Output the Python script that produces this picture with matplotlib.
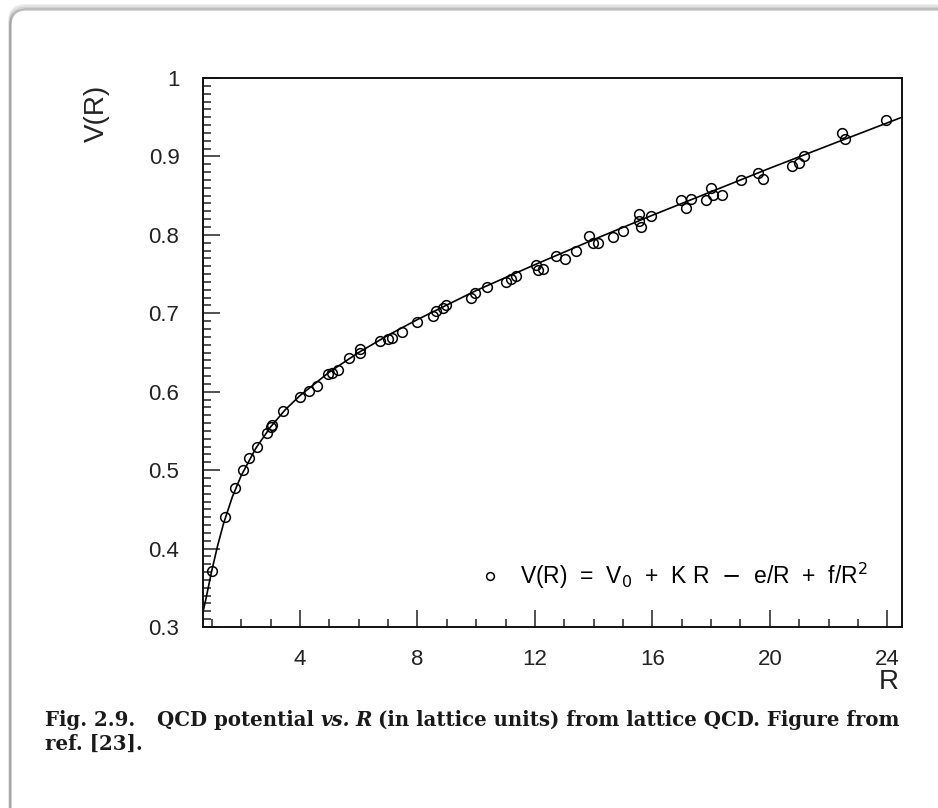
import numpy as np
import matplotlib
matplotlib.use("Agg")
import matplotlib.pyplot as plt
from matplotlib.patches import FancyBboxPatch
from matplotlib.ticker import MultipleLocator

# Точки решітчастого потенціалу
r_points = [1.00, 1.45, 1.79, 2.05, 2.28, 2.53, 2.87, 3.03, 3.06, 3.42,
            4.00, 4.32, 4.57, 4.96, 5.08, 5.30, 5.68, 6.04, 6.06, 6.74,
            7.00, 7.12, 7.46, 7.97, 8.53, 8.65, 8.87, 8.99, 9.84, 9.95,
            10.37, 11.03, 11.20, 11.37, 12.05, 12.10, 12.28, 12.73, 13.01, 13.41,
            13.84, 13.98, 14.15, 14.66, 15.00, 15.56, 15.56, 15.62, 15.96, 16.98,
            17.13, 17.32, 17.83, 18.00, 18.06, 18.38, 19.02, 19.59, 19.78, 20.76,
            20.98, 21.18, 22.46, 22.57, 23.96]
v_points = [0.371, 0.440, 0.477, 0.500, 0.515, 0.530, 0.547, 0.555, 0.557, 0.575,
            0.593, 0.601, 0.607, 0.622, 0.624, 0.628, 0.643, 0.650, 0.654, 0.665,
            0.667, 0.669, 0.676, 0.689, 0.696, 0.703, 0.707, 0.710, 0.720, 0.726,
            0.734, 0.740, 0.744, 0.748, 0.762, 0.755, 0.756, 0.773, 0.769, 0.780,
            0.798, 0.790, 0.790, 0.797, 0.805, 0.827, 0.818, 0.810, 0.824, 0.844,
            0.834, 0.846, 0.845, 0.860, 0.851, 0.851, 0.870, 0.879, 0.871, 0.888,
            0.892, 0.900, 0.930, 0.922, 0.946]

# Апроксимаційна крива
r_curve = [0.7, 0.8, 0.9, 1.0, 1.2, 1.4, 1.7, 2.0, 2.5, 3.0, 3.5, 4.0, 5.0,
           6.0, 7.0, 8.0, 10.0, 12.0, 14.0, 16.0, 18.0, 20.0, 22.0, 24.5]
v_curve = [0.319, 0.336, 0.354, 0.372, 0.404, 0.432, 0.466, 0.493, 0.528,
           0.555, 0.577, 0.595, 0.625, 0.650, 0.672, 0.692, 0.729, 0.762,
           0.794, 0.825, 0.855, 0.885, 0.914, 0.950]

legend_label = r"V(R)  =  V$_0$  +  K R  $-$  e/R  +  f/R$^2$"
caption_line1 = [("Fig. 2.9.", "normal", 22), ("QCD potential", "normal", 6),
                 ("vs.", "italic", 6), ("R", "italic", 6),
                 ("(in lattice units) from lattice QCD. Figure from", "normal", 0)]
caption_line2 = "ref. [23]."

W, H = 938, 808
fig = plt.figure(figsize=(W / 100, H / 100), dpi=100)
fig.patch.set_facecolor("white")

# Рамка-картка навколо рисунка
for i, a in enumerate([0.10, 0.16, 0.25, 0.45]):
    off = (4 - i) * 1.5
    card = FancyBboxPatch((11 - off * 0.3, -40), W + 60, H - 11 + 40 + off,
                          boxstyle="round,pad=0,rounding_size=16",
                          transform=None, facecolor="none",
                          edgecolor=(0.45, 0.45, 0.45, a), linewidth=1.6)
    fig.patches.append(card)

ax = fig.add_axes([203 / W, 1 - 627 / H, 699 / W, 549 / H])
ax.plot(r_curve, v_curve, color="black", linewidth=1.2, zorder=2)
pts, = ax.plot(r_points, v_points, linestyle="none", marker="o", markersize=7,
               markerfacecolor="none", markeredgecolor="black",
               markeredgewidth=1.1, zorder=3, label=legend_label)

ax.set_xlim(0.7, 24.5)
ax.set_ylim(0.3, 1.0)

ax.xaxis.set_major_locator(MultipleLocator(4))
ax.xaxis.set_minor_locator(MultipleLocator(1))
ax.yaxis.set_major_locator(MultipleLocator(0.1))
ax.yaxis.set_minor_locator(MultipleLocator(0.01))
ax.yaxis.set_major_formatter(matplotlib.ticker.FuncFormatter(
    lambda v, p: "1" if abs(v - 1) < 1e-6 else f"{v:.1f}"))

ax.tick_params(which="both", direction="in", top=False, right=False,
               width=1.1, color="#222222")
ax.tick_params(which="major", length=12, labelsize=16, pad=16,
               labelcolor="#222222")
ax.tick_params(axis="y", which="major", pad=17)
ax.tick_params(which="minor", length=6)
for s in ax.spines.values():
    s.set_linewidth(1.4)
    s.set_color("#111111")

for lab in ax.get_xticklabels() + ax.get_yticklabels():
    lab.set_family("Liberation Sans")

fig.text(97 / W, 1 - 113 / H, "V(R)", rotation=90, ha="center", va="center",
         fontsize=20, family="Liberation Sans", color="#222222")
fig.text(889 / W, 1 - 682 / H, "R", ha="center", va="center",
         fontsize=20, family="Liberation Sans", color="#222222")

leg = ax.legend(handles=[pts], loc="lower right", bbox_to_anchor=(0.967, 0.045),
                frameon=False, markerscale=0.8, handlelength=0.8,
                handletextpad=0.9, borderpad=0,
                prop={"family": "Liberation Sans", "size": 16.5})

# Підпис під рисунком: частини різного накреслення
renderer = fig.canvas.get_renderer()
cap_size = 14.2
x = 45
for txt, style, gap in caption_line1:
    t = fig.text(x / W, 1 - 726 / H, txt, fontsize=cap_size, fontweight="bold",
                 fontstyle=style, family="DejaVu Serif", va="baseline",
                 color="#1a1a1a")
    bb = t.get_window_extent(renderer)
    x += bb.width + gap
fig.text(45 / W, 1 - 750 / H, caption_line2, fontsize=cap_size,
         fontweight="bold", family="DejaVu Serif", va="baseline",
         color="#1a1a1a")

fig.savefig("out.png", dpi=100)
print("caption end x:", x)
